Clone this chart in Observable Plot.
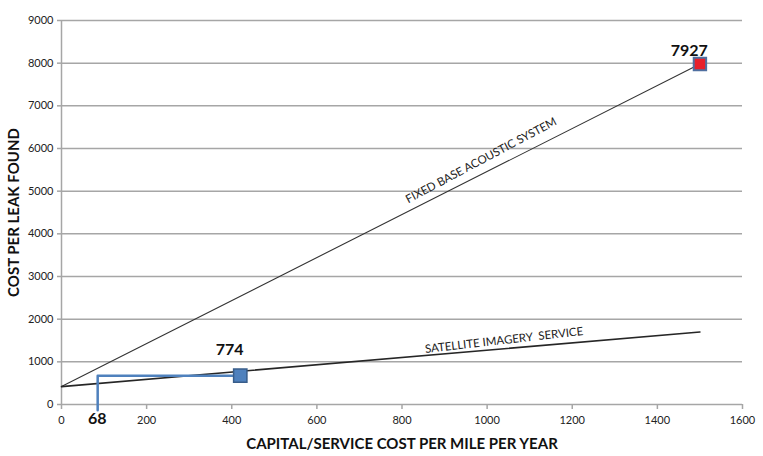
<!DOCTYPE html>
<html>
<head>
<meta charset="utf-8">
<script src="https://cdn.jsdelivr.net/npm/d3@7"></script>
<script src="https://cdn.jsdelivr.net/npm/@observablehq/plot@0.6"></script>
<style>
  html, body { margin: 0; padding: 0; background: #fff; }
  #chart svg { display: block; }
</style>
</head>
<body>
<div id="chart"></div>
<script>
// Data
const xTicks = [0, 200, 400, 600, 800, 1000, 1200, 1400, 1600];
const yTicks = [0, 1000, 2000, 3000, 4000, 5000, 6000, 7000, 8000, 9000];

const lineX = [0, 1500];
const fixedY = [420, 7980];
const satelliteY = [420, 1700];

const fixedLabel = "FIXED BASE ACOUSTIC SYSTEM";
const satelliteLabel = "SATELLITE IMAGERY  SERVICE";

const satPointX = [420];
const satPointY = [675];
const satPointLabel = ["774"];

const fixedPointX = [1500];
const fixedPointY = [7980];
const fixedPointLabel = ["7927"];

const bracketX = [85, 85, 420];
const bracketY = [-135, 675, 675];
const bracketLabel = ["68"];

const xTitle = "CAPITAL/SERVICE COST PER MILE PER YEAR";
const yTitle = "COST PER LEAK FOUND";

const fixedLine = lineX.map((x, i) => ({x, y: fixedY[i]}));
const satLine = lineX.map((x, i) => ({x, y: satelliteY[i]}));
const bracket = bracketX.map((x, i) => ({x, y: bracketY[i]}));

const gridColor = "#a6a6a6";

const chart = Plot.plot({
  width: 763,
  height: 456,
  marginLeft: 61,
  marginRight: 21,
  marginTop: 20,
  marginBottom: 52,
  x: {domain: [0, 1600]},
  y: {domain: [0, 9000]},
  style: {fontFamily: "Lato, 'Open Sans', sans-serif", fontSize: "11px", color: "#222", background: "#fff"},
  marks: [
    Plot.ruleY(yTicks.filter(d => d > 0), {stroke: gridColor, strokeWidth: 1.5, x1: 0, x2: 1600}),
    Plot.ruleY([0], {stroke: gridColor, strokeWidth: 1.5}),
    Plot.ruleX([0], {stroke: gridColor, strokeWidth: 1.5, y1: 0, y2: 9000}),
    Plot.axisY({ticks: yTicks, tickSize: 4, tickPadding: 4, stroke: gridColor, strokeWidth: 1.5, fill: "#222", fontSize: 11, label: null, tickFormat: d => String(d)}),
    Plot.axisX({ticks: xTicks, tickSize: 5, tickPadding: 7, stroke: gridColor, strokeWidth: 1.5, fill: "#222", fontSize: 11, label: null, tickFormat: d => String(d)}),
    Plot.line(fixedLine, {x: "x", y: "y", stroke: "#333", strokeWidth: 1.1}),
    Plot.line(satLine, {x: "x", y: "y", stroke: "#262626", strokeWidth: 1.6}),
    Plot.text([fixedLabel], {x: 986, y: 5720, text: d => d, rotate: -28, fontSize: 11.5, fill: "#222"}),
    Plot.text([satelliteLabel], {x: 1040, y: 1506, text: d => d, rotate: -6.5, fontSize: 11.5, fill: "#222"}),
    Plot.line(bracket, {x: "x", y: "y", stroke: "#4f81bd", strokeWidth: 2.5}),
    Plot.dot(satPointX.map((x, i) => ({x, y: satPointY[i]})), {x: "x", y: "y", symbol: "square", r: 7.5, fill: "#4f81bd", stroke: "#385d8a", strokeWidth: 1.5}),
    Plot.dot(fixedPointX.map((x, i) => ({x, y: fixedPointY[i]})), {x: "x", y: "y", symbol: "square", r: 7, fill: "#e8202a", stroke: "#4f6fa0", strokeWidth: 2}),
    Plot.text(satPointLabel, {x: 395, y: 1272, text: d => d, fontSize: 16, fontWeight: "bold", fill: "#111"}),
    Plot.text(fixedPointLabel, {x: 1475, y: 8297, text: d => d, fontSize: 16, fontWeight: "bold", fill: "#111"}),
    Plot.text(bracketLabel, {x: 84, y: -344, text: d => d, fontSize: 16, fontWeight: "bold", fill: "#111"}),
    Plot.text([xTitle], {frameAnchor: "bottom", dy: 44, text: d => d, fontSize: 15, fontWeight: "bold", fill: "#111"}),
    Plot.text([yTitle], {x: -110, y: 4500, rotate: -90, text: d => d, fontSize: 15, fontWeight: "bold", fill: "#111"})
  ]
});
document.getElementById("chart").appendChild(chart);
</script>
</body>
</html>
